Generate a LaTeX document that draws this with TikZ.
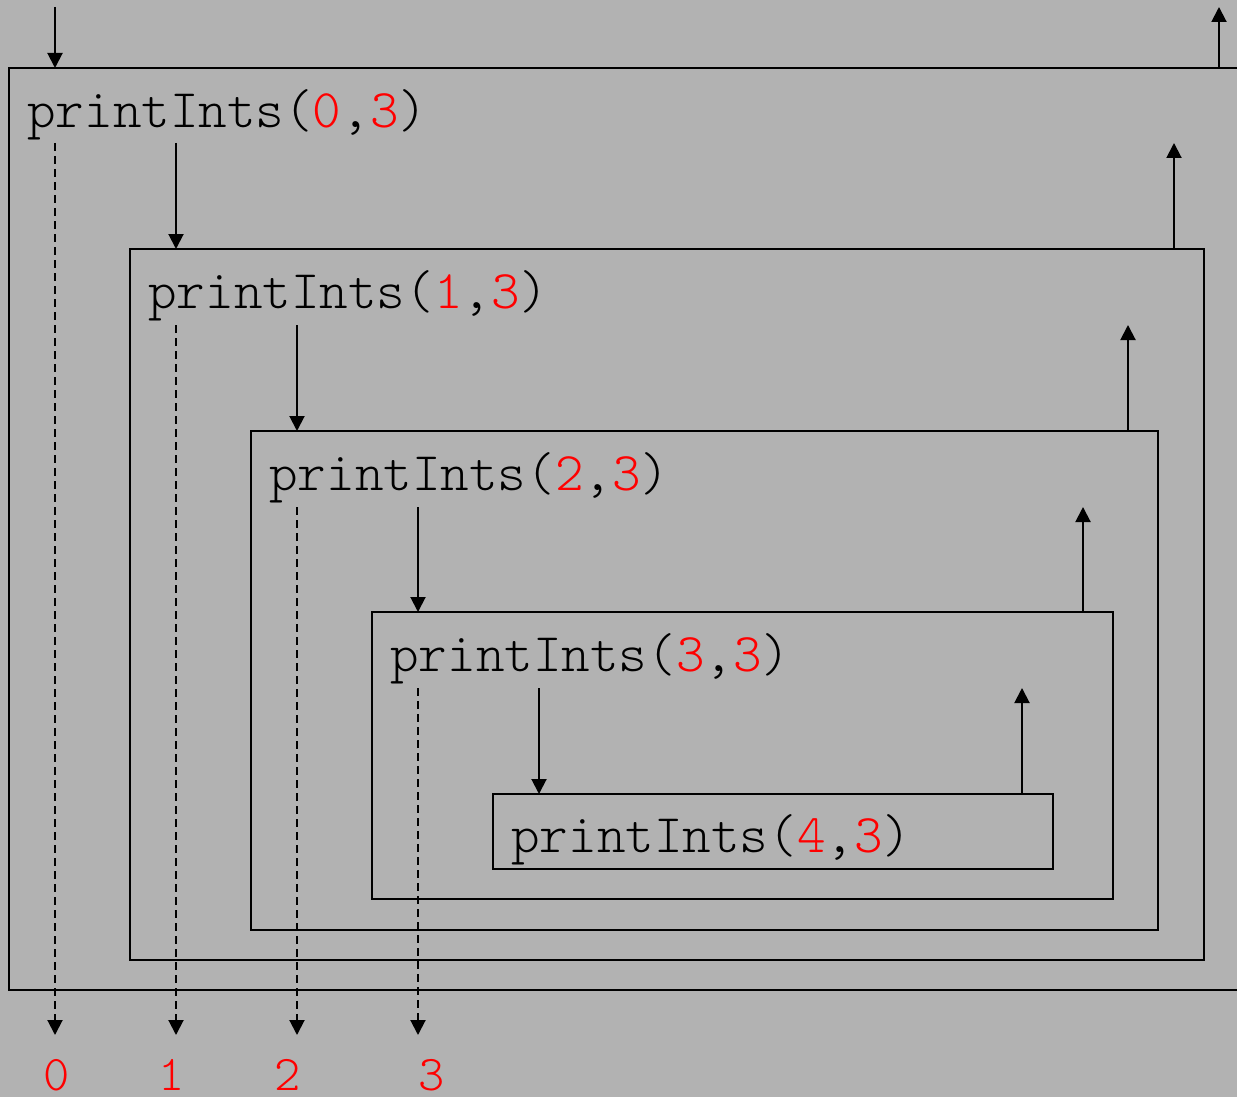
\documentclass[tikz,border=0pt]{standalone}
\usepackage{xcolor}
\usepackage{fontspec}
\newfontfamily\callfont{lmmonolt10-regular.otf}
\usepackage{tikz}
\usetikzlibrary{arrows.meta,positioning}
\definecolor{bggray}{RGB}{178,178,178}
\definecolor{argred}{RGB}{255,0,0}
\newcommand{\redarg}[1]{\textcolor{argred}{#1}}

\begin{document}
\begin{tikzpicture}[x=0.5pt,y=-0.5pt,
  callbox/.style={draw=black,line width=1pt},
  callarrow/.style={line width=1pt,-{Triangle[length=7.5pt,width=7.5pt]}},
  outarrow/.style={line width=1pt,dash pattern=on 4pt off 2.5pt,-{Triangle[length=7.5pt,width=7.5pt]}},
  calltext/.style={anchor=base west,inner sep=0pt,font=\fontsize{27.2}{30}\selectfont\callfont},
  outtext/.style={anchor=base,inner sep=0pt,text=argred,font=\fontsize{25}{28}\selectfont\callfont}]

  \fill[bggray] (0,0) rectangle (1237,1097);
  \useasboundingbox (0,0) rectangle (1237,1097);

  % nested calls
  \begin{scope}
  \clip (0,0) rectangle (1237,1097);
  \draw[callbox] (9,68) rectangle (1252,990);
  \end{scope}
  \draw[callbox] (130,249) rectangle (1204,960);
  \draw[callbox] (251,431) rectangle (1158,930);
  \draw[callbox] (372,612) rectangle (1113,899);
  \draw[callbox] (493,794) rectangle (1053,869);

  \node[calltext] (call0) at (27,127) {printInts(\redarg{0},\redarg{3})};
  \node[calltext] (call1) at (148,308) {printInts(\redarg{1},\redarg{3})};
  \node[calltext] (call2) at (269,490) {printInts(\redarg{2},\redarg{3})};
  \node[calltext] (call3) at (390,671) {printInts(\redarg{3},\redarg{3})};
  \node[calltext] (call4) at (511,852) {printInts(\redarg{4},\redarg{3})};

  % printed values
  \node[outtext] (out0) at (57,1090) {0};
  \node[outtext] (out1) at (172,1090) {1};
  \node[outtext] (out2) at (288,1090) {2};
  \node[outtext] (out3) at (432,1090) {3};

  % arrow ends
  \coordinate (in0) at (55,7);     \coordinate (top0) at (55,68);
  \coordinate (in1) at (176,143);  \coordinate (top1) at (176,249);
  \coordinate (in2) at (297,325);  \coordinate (top2) at (297,431);
  \coordinate (in3) at (418,507);  \coordinate (top3) at (418,612);
  \coordinate (in4) at (539,688);  \coordinate (top4) at (539,794);

  \coordinate (ret0) at (1219,68);  \coordinate (back0) at (1219,7);
  \coordinate (ret1) at (1174,249); \coordinate (back1) at (1174,143);
  \coordinate (ret2) at (1128,431); \coordinate (back2) at (1128,325);
  \coordinate (ret3) at (1083,612); \coordinate (back3) at (1083,507);
  \coordinate (ret4) at (1022,794); \coordinate (back4) at (1022,688);

  \coordinate (pr0) at (55,143);   \coordinate (end0) at (55,1035);
  \coordinate (pr1) at (176,325);  \coordinate (end1) at (176,1035);
  \coordinate (pr2) at (297,507);  \coordinate (end2) at (297,1035);
  \coordinate (pr3) at (418,688);  \coordinate (end3) at (418,1035);

  \draw[callarrow] (in0) -- (top0);
  \draw[callarrow] (in1) -- (top1);
  \draw[callarrow] (in2) -- (top2);
  \draw[callarrow] (in3) -- (top3);
  \draw[callarrow] (in4) -- (top4);

  \draw[callarrow] (ret0) -- (back0);
  \draw[callarrow] (ret1) -- (back1);
  \draw[callarrow] (ret2) -- (back2);
  \draw[callarrow] (ret3) -- (back3);
  \draw[callarrow] (ret4) -- (back4);

  \draw[outarrow] (pr0) -- (end0);
  \draw[outarrow] (pr1) -- (end1);
  \draw[outarrow] (pr2) -- (end2);
  \draw[outarrow] (pr3) -- (end3);

\end{tikzpicture}
\end{document}
